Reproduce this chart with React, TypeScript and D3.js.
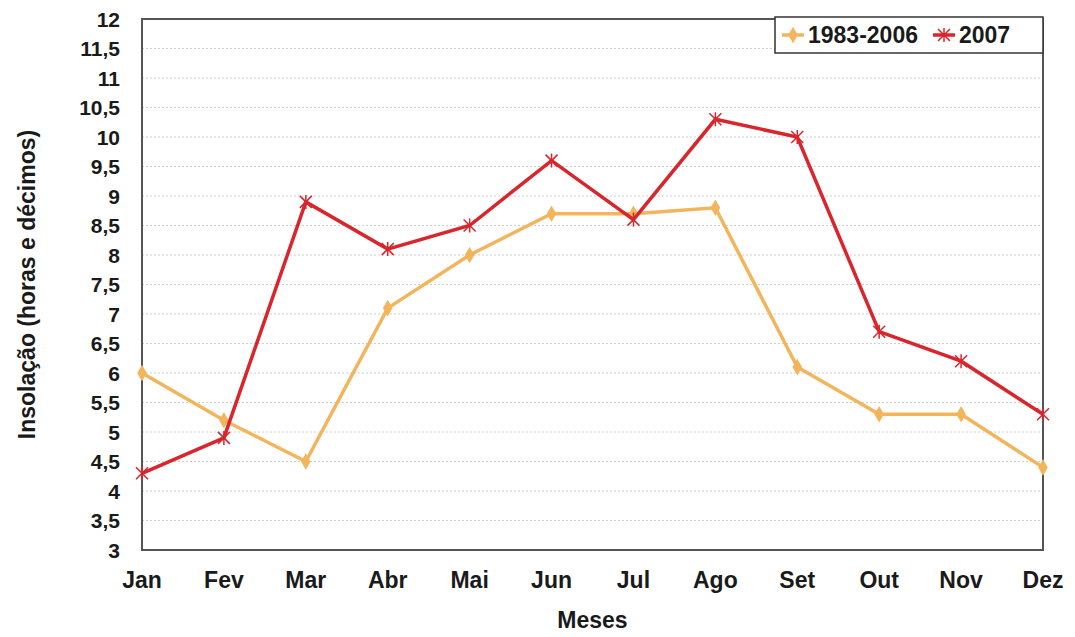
import React, { useEffect, useRef } from "react";
import * as d3 from "d3";

const months = ["Jan", "Fev", "Mar", "Abr", "Mai", "Jun", "Jul", "Ago", "Set", "Out", "Nov", "Dez"];
const normal = [6.0, 5.2, 4.5, 7.1, 8.0, 8.7, 8.7, 8.8, 6.1, 5.3, 5.3, 4.4];
const year2007 = [4.3, 4.9, 8.9, 8.1, 8.5, 9.6, 8.6, 10.3, 10.0, 6.7, 6.2, 5.3];
const yTicks = [3, 3.5, 4, 4.5, 5, 5.5, 6, 6.5, 7, 7.5, 8, 8.5, 9, 9.5, 10, 10.5, 11, 11.5, 12];

const ORANGE = "#f3b55c";
const RED = "#d8262c";
const FONT = "'Liberation Sans', Arial, sans-serif";

const App = () => {
  const svgRef = useRef<SVGSVGElement>(null);

  useEffect(() => {
    const svg = d3.select(svgRef.current);
    svg.selectAll("*").remove();

    const width = 1075;
    const height = 637;
    const margin = { top: 19, right: 32, bottom: 87, left: 142 };

    const x = d3
      .scalePoint<string>()
      .domain(months)
      .range([margin.left, width - margin.right])
      .padding(0);

    const y = d3
      .scaleLinear()
      .domain([3, 12])
      .range([height - margin.bottom, margin.top]);

    // grid
    svg
      .append("g")
      .selectAll("line")
      .data(yTicks.slice(1, -1))
      .enter()
      .append("line")
      .attr("x1", margin.left)
      .attr("x2", width - margin.right)
      .attr("y1", (d) => y(d))
      .attr("y2", (d) => y(d))
      .attr("stroke", "#cfcfcf")
      .attr("stroke-width", 1)
      .attr("stroke-dasharray", "2,2");

    // frame
    svg
      .append("rect")
      .attr("x", margin.left)
      .attr("y", margin.top)
      .attr("width", width - margin.right - margin.left)
      .attr("height", height - margin.bottom - margin.top)
      .attr("fill", "none")
      .attr("stroke", "#555")
      .attr("stroke-width", 2);

    // y labels
    svg
      .append("g")
      .selectAll("text")
      .data(yTicks)
      .enter()
      .append("text")
      .attr("x", margin.left - 22)
      .attr("y", (d) => y(d))
      .attr("dy", "0.36em")
      .attr("text-anchor", "end")
      .attr("font-family", FONT)
      .attr("font-weight", "bold")
      .attr("font-size", 21)
      .attr("fill", "#1a1a1a")
      .text((d) => String(d).replace(".", ","));

    // x labels
    svg
      .append("g")
      .selectAll("text")
      .data(months)
      .enter()
      .append("text")
      .attr("x", (d) => x(d)!)
      .attr("y", 588)
      .attr("text-anchor", "middle")
      .attr("font-family", FONT)
      .attr("font-weight", "bold")
      .attr("font-size", 23)
      .attr("fill", "#1a1a1a")
      .text((d) => d);

    // axis titles
    svg
      .append("text")
      .attr("x", (margin.left + width - margin.right) / 2)
      .attr("y", 628)
      .attr("text-anchor", "middle")
      .attr("font-family", FONT)
      .attr("font-weight", "bold")
      .attr("font-size", 23)
      .attr("fill", "#1a1a1a")
      .text("Meses");

    svg
      .append("text")
      .attr("transform", `translate(35, ${(margin.top + height - margin.bottom) / 2}) rotate(-90)`)
      .attr("text-anchor", "middle")
      .attr("font-family", FONT)
      .attr("font-weight", "bold")
      .attr("font-size", 23)
      .attr("fill", "#1a1a1a")
      .text("Insolação (horas e décimos)");

    const line = d3
      .line<number>()
      .x((_, i) => x(months[i])!)
      .y((d) => y(d));

    const diamond = d3.symbol().type(d3.symbolDiamond).size(80);
    const star = "M-6,-6L6,6M-6,6L6,-6M0,-7L0,7";

    // 1983-2006
    svg
      .append("path")
      .datum(normal)
      .attr("d", line)
      .attr("fill", "none")
      .attr("stroke", ORANGE)
      .attr("stroke-width", 3.5);

    svg
      .append("g")
      .selectAll("path")
      .data(normal)
      .enter()
      .append("path")
      .attr("d", diamond() as string)
      .attr("transform", (d, i) => `translate(${x(months[i])},${y(d)})`)
      .attr("fill", ORANGE);

    // 2007
    svg
      .append("path")
      .datum(year2007)
      .attr("d", line)
      .attr("fill", "none")
      .attr("stroke", RED)
      .attr("stroke-width", 3.5);

    svg
      .append("g")
      .selectAll("path")
      .data(year2007)
      .enter()
      .append("path")
      .attr("d", star)
      .attr("transform", (d, i) => `translate(${x(months[i])},${y(d)})`)
      .attr("stroke", RED)
      .attr("stroke-width", 1.5)
      .attr("fill", "none");

    // legend
    const legend = svg.append("g").attr("transform", "translate(775, 17)");
    legend
      .append("rect")
      .attr("width", 268)
      .attr("height", 36)
      .attr("fill", "white")
      .attr("stroke", "#333")
      .attr("stroke-width", 1.5);

    legend
      .append("line")
      .attr("x1", 7)
      .attr("x2", 29)
      .attr("y1", 18)
      .attr("y2", 18)
      .attr("stroke", ORANGE)
      .attr("stroke-width", 3.5);
    legend
      .append("path")
      .attr("d", diamond() as string)
      .attr("transform", "translate(18,18)")
      .attr("fill", ORANGE);
    legend
      .append("text")
      .attr("x", 33)
      .attr("y", 26)
      .attr("font-family", FONT)
      .attr("font-weight", "bold")
      .attr("font-size", 23)
      .attr("fill", "#1a1a1a")
      .text("1983-2006");

    legend
      .append("line")
      .attr("x1", 158)
      .attr("x2", 180)
      .attr("y1", 18)
      .attr("y2", 18)
      .attr("stroke", RED)
      .attr("stroke-width", 3.5);
    legend
      .append("path")
      .attr("d", star)
      .attr("transform", "translate(169,18)")
      .attr("stroke", RED)
      .attr("stroke-width", 1.5)
      .attr("fill", "none");
    legend
      .append("text")
      .attr("x", 184)
      .attr("y", 26)
      .attr("font-family", FONT)
      .attr("font-weight", "bold")
      .attr("font-size", 23)
      .attr("fill", "#1a1a1a")
      .text("2007");
  }, []);

  return (
    <svg
      ref={svgRef}
      width={1075}
      height={637}
      style={{ position: "absolute", left: 0, top: 0, background: "white" }}
    />
  );
};

export default App;
